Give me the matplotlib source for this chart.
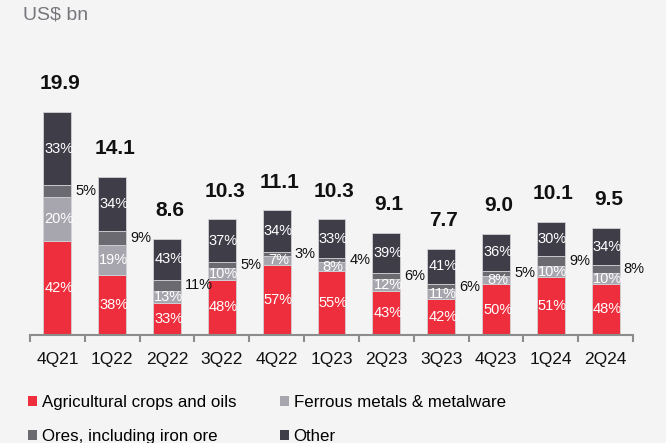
import matplotlib
matplotlib.use("Agg")
import matplotlib.pyplot as plt
from matplotlib.patches import Patch
import numpy as np

plt.rcParams['font.family'] = ['Liberation Sans', 'DejaVu Sans']

quarters = ["4Q21", "1Q22", "2Q22", "3Q22", "4Q22", "1Q23", "2Q23", "3Q23", "4Q23", "1Q24", "2Q24"]
totals = [19.9, 14.1, 8.6, 10.3, 11.1, 10.3, 9.1, 7.7, 9.0, 10.1, 9.5]
agri_pct = [42, 38, 33, 48, 57, 55, 43, 42, 50, 51, 48]
ferrous_pct = [20, 19, 13, 10, 7, 8, 12, 11, 8, 10, 10]
ores_pct = [5, 9, 11, 5, 3, 4, 6, 6, 5, 9, 8]
other_pct = [33, 34, 43, 37, 34, 33, 39, 41, 36, 30, 34]
series_names = ["Agricultural crops and oils", "Ferrous metals & metalware",
                "Ores, including iron ore", "Other"]

colors = ["#ee2e3d", "#a7a6ae", "#6b6a70", "#3f3e48"]
bg = "#f4f4f4"

fig = plt.figure(figsize=(6.66, 4.43), dpi=100, facecolor=bg)
ax = fig.add_axes([30/666, (443-335)/443, 603/666, (335-60)/443])
ax.set_facecolor(bg)

x = np.arange(len(quarters))
tot = np.array(totals)
pcts = [np.array(agri_pct), np.array(ferrous_pct), np.array(ores_pct), np.array(other_pct)]
sums = sum(pcts)
bottom = np.zeros(len(quarters))
width = 0.51
for k, p in enumerate(pcts):
    h = tot * p / sums
    ax.bar(x, h, width, bottom=bottom, color=colors[k], edgecolor="#d2d2d6", linewidth=0.6)
    for i in range(len(quarters)):
        yc = bottom[i] + h[i] / 2
        if k == 2:
            ax.annotate(f"{p[i]}%", (x[i] + width/2, yc), xytext=(3, 0), textcoords="offset points",
                        ha="left", va="center", fontsize=10.5, color="#111111")
        else:
            ax.text(x[i] + 0.03, yc, f"{p[i]}%", ha="center", va="center", fontsize=10.5, color="white")
    bottom = bottom + h

for i in range(len(quarters)):
    ax.annotate(f"{totals[i]:.1f}", (x[i], tot[i]), xytext=(2, 16.5), textcoords="offset points",
                ha="center", va="baseline", fontsize=15, fontweight="bold", color="#111111")

ax.set_xlim(-0.5, len(quarters) - 0.5)
ax.set_ylim(0, (335-60)/11.22)
for s in ["top", "right", "left"]:
    ax.spines[s].set_visible(False)
ax.spines["bottom"].set_color("#8c8c8c")
ax.spines["bottom"].set_linewidth(1.5)
ax.set_yticks([])
ax.set_xticks(x)
ax.set_xticklabels(quarters, fontsize=12.5, color="#111111")
ax.tick_params(axis="x", which="major", length=0, pad=12)
ax.set_xticks(np.arange(-0.5, len(quarters)), minor=True)
ax.tick_params(axis="x", which="minor", length=5, width=1.5, color="#8c8c8c")

fig.text(23/666, 1 - 15/443, "US$ bn", fontsize=14, color="#77767c", ha="left", va="center")

handles = [Patch(facecolor=c, edgecolor="none") for c in colors]
order = [0, 2, 1, 3]
fig.legend([handles[j] for j in order], [series_names[j] for j in order],
           loc="upper left", bbox_to_anchor=(28/666, 1 - 395/443),
           ncol=2, frameon=False, fontsize=12.2, handlelength=0.55, handleheight=0.55,
           handletextpad=0.25, columnspacing=2.6, labelspacing=1.12, borderaxespad=0, borderpad=0)

fig.savefig("out.png", dpi=100, facecolor=bg)
